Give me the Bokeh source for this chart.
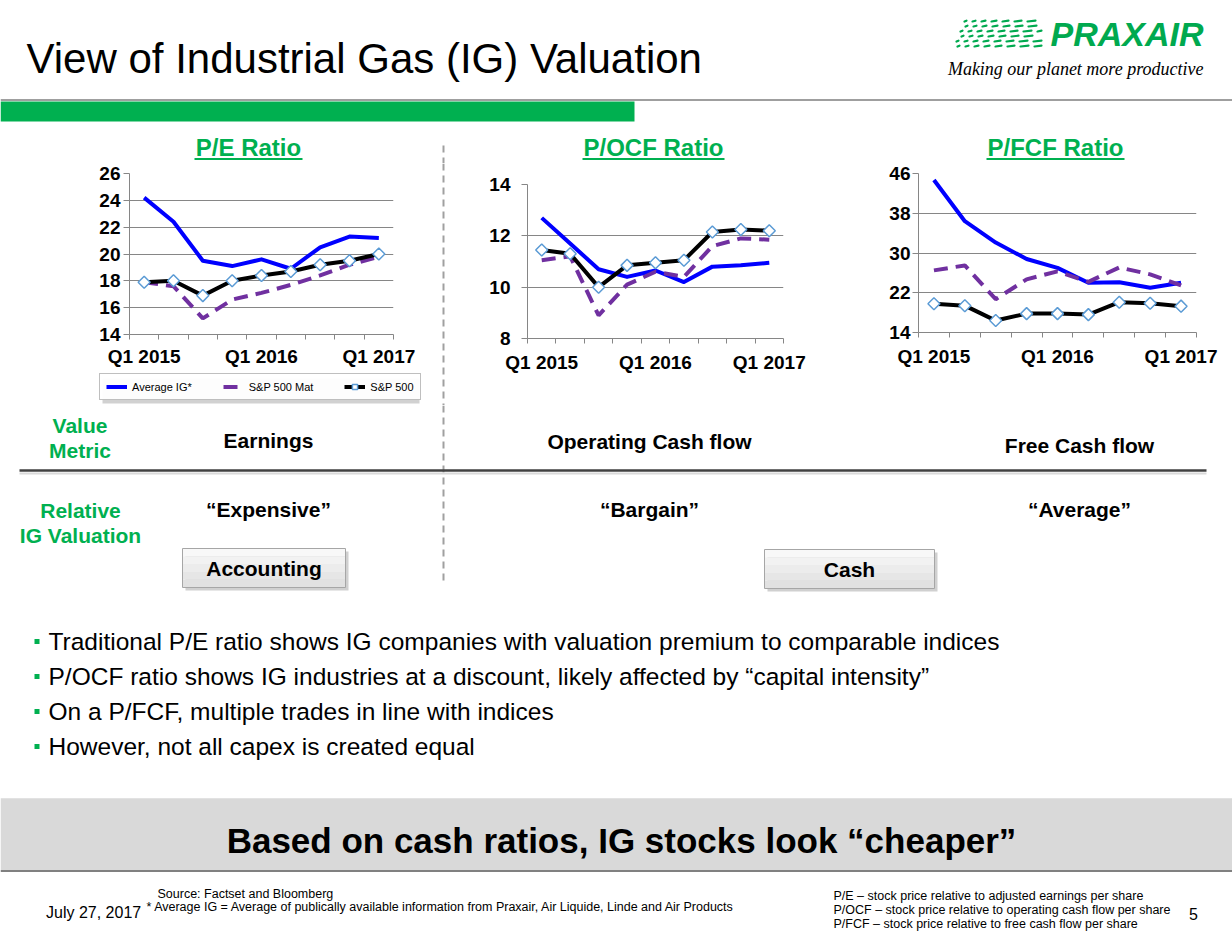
from bokeh.plotting import figure
from bokeh.layouts import column, row
from bokeh.models import Range1d, FixedTicker, Legend, LegendItem
from bokeh.core.properties import value
from bokeh.embed import file_html
from bokeh.resources import INLINE

# ---------------- data ----------------
quarters = ["Q1 2015", "Q2 2015", "Q3 2015", "Q4 2015", "Q1 2016",
            "Q2 2016", "Q3 2016", "Q4 2016", "Q1 2017"]
series_names = ["Average IG*", "S&P 500 Mat", "S&P 500"]
chart_titles = ["P/E Ratio", "P/OCF Ratio", "P/FCF Ratio"]

pe_avg_ig = [24.2, 22.4, 19.5, 19.1, 19.6, 18.9, 20.5, 21.3, 21.2]
pe_sp500_mat = [17.9, 17.6, 15.2, 16.6, 17.1, 17.7, 18.4, 19.2, 19.8]
pe_sp500 = [17.9, 18.0, 16.9, 18.0, 18.4, 18.7, 19.2, 19.5, 20.0]
pe_yticks = [14, 16, 18, 20, 22, 24, 26]

pocf_avg_ig = [12.7, 11.7, 10.7, 10.4, 10.65, 10.2, 10.8, 10.85, 10.95]
pocf_sp500_mat = [11.05, 11.2, 8.9, 10.1, 10.6, 10.4, 11.6, 11.9, 11.85]
pocf_sp500 = [11.45, 11.3, 10.0, 10.85, 10.95, 11.05, 12.15, 12.25, 12.2]
pocf_yticks = [8, 10, 12, 14]

pfcf_avg_ig = [44.7, 36.4, 32.1, 28.8, 27.0, 24.0, 24.1, 23.0, 24.0]
pfcf_sp500_mat = [26.5, 27.5, 20.7, 24.7, 26.3, 24.2, 27.1, 25.7, 23.5]
pfcf_sp500 = [19.8, 19.4, 16.4, 17.8, 17.8, 17.6, 20.1, 19.9, 19.3]
pfcf_yticks = [14, 22, 30, 38, 46]

metrics = ["Earnings", "Operating Cash flow", "Free Cash flow"]
valuations = ["\u201cExpensive\u201d", "\u201cBargain\u201d", "\u201cAverage\u201d"]
groups = ["Accounting", "Cash"]
bullets = [
    "Traditional P/E ratio shows IG companies with valuation premium to comparable indices",
    "P/OCF ratio shows IG industries at a discount, likely affected by \u201ccapital intensity\u201d",
    "On a P/FCF, multiple trades in line with indices",
    "However, not all capex is created equal",
]
footnotes_left = [
    "Source:  Factset and Bloomberg",
    "* Average IG = Average of publically available information from Praxair, Air Liquide, Linde and Air Products",
]
footnotes_right = [
    "P/E \u2013 stock price relative to adjusted earnings per share",
    "P/OCF \u2013 stock price relative to operating cash flow per share",
    "P/FCF \u2013  stock price relative to free cash flow per share",
]

# ---------------- styles ----------------
FONT = "Liberation Sans"
GREEN = "#00B050"
LOGO_GREEN = "#00A94F"
BLUE = "#0000FF"
PURPLE = "#7030A0"
GRID = "#868686"
DASHGRAY = "#A0A0A0"
MARKER_EDGE = "#5B9BD5"

W = 1232
ROW_TOP, ROW_BOT = 163, 405
LEG_TOP = 372


def canvas(w, h, x0, y0):
    p = figure(width=w, height=h, x_range=Range1d(x0, x0 + w), y_range=Range1d(y0 + h, y0),
               output_backend="svg", toolbar_location=None,
               x_axis_location=None, y_axis_location=None,
               min_border_left=0, min_border_right=0, min_border_top=0, min_border_bottom=0)
    p.outline_line_color = None
    p.grid.visible = False
    p.background_fill_color = "white"
    p.border_fill_color = "white"
    return p


def txt(p, x, y, s, size, color="black", style="normal", align="left",
        baseline="middle", font=FONT):
    p.text(x=[x], y=[y], text=[s], text_font=value(font), text_font_size=f"{size}px",
           text_font_style=style, text_color=color, text_align=align,
           text_baseline=baseline)


def series_lines(p, xs, avg, mat, sp):
    r_avg = p.line(xs, avg, line_color=BLUE, line_width=4, line_join="round")
    r_mat = p.line(xs, mat, line_color=PURPLE, line_width=4, line_dash="14 8")
    r_sp = p.line(xs, sp, line_color="black", line_width=4, line_join="round")
    r_mk = p.scatter(xs, sp, marker="square", angle=0.785398, size=8.5, fill_color="white",
                     line_color=MARKER_EDGE, line_width=1.5)
    return r_avg, r_mat, r_sp, r_mk


# ---------------- header ----------------
top = canvas(W, ROW_TOP, 0, 0)
top.segment(x0=[0], y0=[99.5], x1=[W], y1=[99.5], line_color="#7F7F7F", line_width=1.5)
top.quad(left=[0], right=[634], top=[101], bottom=[121], fill_color=GREEN, line_color=None)
txt(top, 26, 57.5, "View of Industrial Gas (IG) Valuation", 42)

# logo: speed streaks + word mark + tagline
sx0, sy0, sx1, sy1 = [], [], [], []
for r, yy in enumerate([21, 26, 31, 36, 41, 46]):
    x = 954 + (5 - r) * 2 + (r % 2) * 3
    seg = 2.0
    while x < 1038:
        sx0.append(x)
        sy0.append(yy)
        sx1.append(min(x + seg, 1041))
        sy1.append(yy - 0.8)
        x += seg + 6
        seg += 1.0
top.segment(x0=sx0, y0=sy0, x1=sx1, y1=sy1, line_color=LOGO_GREEN, line_width=2.2,
            line_cap="round")
txt(top, 1203, 33, "PRAXAIR", 34, color=LOGO_GREEN, style="bold italic", align="right")
txt(top, 1203, 68.5, "Making our planet more productive", 18, style="italic", align="right",
    font="Liberation Serif")

# chart titles with underline
title_cx = [248, 653, 1055]
title_half = [54, 71, 69]
for t, cx, hw in zip(chart_titles, title_cx, title_half):
    txt(top, cx, 147, t, 24, color=GREEN, style="bold", align="center")
    top.segment(x0=[cx - hw], y0=[158.5], x1=[cx + hw], y1=[158.5], line_color=GREEN,
                line_width=2)
top.segment(x0=[443], y0=[145], x1=[443], y1=[ROW_TOP], line_color=DASHGRAY, line_width=2,
            line_dash="7 5")


# ---------------- charts ----------------
def make_chart(x0, x1, y0, y1, fl, fr, ft, fb, yticks, avg, mat, sp, y_standoff, x_standoff):
    """x0..x1 / y0..y1: figure box in page px; fl, fr, ft, fb: frame edges in page px."""
    n = len(quarters)
    xs = list(range(1, n + 1))
    p = figure(width=x1 - x0, height=y1 - y0, output_backend="svg", toolbar_location=None,
               x_range=Range1d(0.5, n + 0.5), y_range=Range1d(min(yticks), max(yticks)),
               min_border_left=fl - x0, min_border_right=x1 - fr,
               min_border_top=ft - y0, min_border_bottom=y1 - fb)
    p.outline_line_color = None
    p.xgrid.visible = False
    p.ygrid.ticker = FixedTicker(ticks=yticks)
    p.ygrid.grid_line_color = GRID
    p.ygrid.grid_line_width = 1

    p.yaxis.ticker = FixedTicker(ticks=yticks)
    p.yaxis.axis_line_color = GRID
    p.yaxis.major_tick_line_color = GRID
    p.yaxis.major_tick_out = 6
    p.yaxis.major_tick_in = 0
    p.yaxis.minor_tick_line_color = None
    p.yaxis.major_label_standoff = y_standoff
    p.yaxis.major_label_text_font = FONT
    p.yaxis.major_label_text_font_size = "19px"
    p.yaxis.major_label_text_font_style = "bold"
    p.yaxis.major_label_text_color = "black"

    label_pos = [i + 1 for i, q in enumerate(quarters) if q.startswith("Q1")]
    p.xaxis.ticker = FixedTicker(ticks=label_pos, minor_ticks=[i + 0.5 for i in range(n + 1)])
    p.xaxis.major_label_overrides = {pos: quarters[pos - 1] for pos in label_pos}
    p.xaxis.axis_line_color = GRID
    p.xaxis.major_tick_out = 0
    p.xaxis.major_tick_in = 0
    p.xaxis.minor_tick_out = 5
    p.xaxis.minor_tick_in = 0
    p.xaxis.minor_tick_line_color = GRID
    p.xaxis.major_label_standoff = x_standoff
    p.xaxis.major_label_text_font = FONT
    p.xaxis.major_label_text_font_size = "19px"
    p.xaxis.major_label_text_font_style = "bold"
    p.xaxis.major_label_text_color = "black"

    series_lines(p, xs, avg, mat, sp)
    return p


c1 = make_chart(0, 440, ROW_TOP, LEG_TOP, 129, 393, 173, 334, pe_yticks, pe_avg_ig,
                pe_sp500_mat, pe_sp500, 3, 6)
c2 = make_chart(446, 850, ROW_TOP, ROW_BOT, 527, 783, 184, 338, pocf_yticks, pocf_avg_ig,
                pocf_sp500_mat, pocf_sp500, 11, 8)
c3 = make_chart(850, W, ROW_TOP, ROW_BOT, 918, 1196, 173, 332, pfcf_yticks, pfcf_avg_ig,
                pfcf_sp500_mat, pfcf_sp500, 2, 8)

# legend strip under the P/E chart (legend keys only: one undrawable point each)
NAN = float("nan")
leg = canvas(440, ROW_BOT - LEG_TOP, 0, LEG_TOP)
leg.quad(left=[102], right=[419], top=[378], bottom=[403], fill_color="#BDBDBD",
         fill_alpha=0.7, line_color=None)
la, lm, ls, lk = series_lines(leg, [NAN], [NAN], [NAN], [NAN])
lg = Legend(items=[LegendItem(label=series_names[0], renderers=[la]),
                   LegendItem(label=series_names[1], renderers=[lm]),
                   LegendItem(label=series_names[2], renderers=[ls, lk])],
            orientation="horizontal", location=(99, ROW_BOT - 400),
            label_text_font=FONT, label_text_font_size="11px", label_text_color="black",
            glyph_width=21, glyph_height=13, label_height=13, label_standoff=5,
            spacing=31, padding=6, margin=0,
            border_line_color="#7F7F7F", border_line_width=1,
            background_fill_color="white")
leg.add_layout(lg, "center")

sep = canvas(6, ROW_BOT - ROW_TOP, 440, ROW_TOP)
sep.segment(x0=[443], y0=[ROW_TOP], x1=[443], y1=[ROW_BOT], line_color=DASHGRAY,
            line_width=2, line_dash="7 5")

# ---------------- lower part ----------------
bot = canvas(W, 936 - ROW_BOT, 0, ROW_BOT)
bot.segment(x0=[443], y0=[ROW_BOT], x1=[443], y1=[583], line_color=DASHGRAY, line_width=2,
            line_dash="7 5")
txt(bot, 79.5, 424.5, "Value", 21, color=GREEN, style="bold", align="center")
txt(bot, 79.5, 450, "Metric", 21, color=GREEN, style="bold", align="center")
col_cx = [268, 649, 1079]
metric_y = [440, 440.5, 445]
for s, cx, yy in zip(metrics, col_cx, metric_y):
    txt(bot, cx, yy, s, 21, style="bold", align="center")
bot.segment(x0=[19], y0=[473], x1=[1206], y1=[473], line_color="#D9D9D9", line_width=2)
bot.segment(x0=[19], y0=[470], x1=[1206], y1=[470], line_color="#404040", line_width=2.5)
txt(bot, 80, 510, "Relative", 21, color=GREEN, style="bold", align="center")
txt(bot, 80, 535, "IG Valuation", 21, color=GREEN, style="bold", align="center")
for s, cx in zip(valuations, col_cx):
    txt(bot, cx, 508.5, s, 21, style="bold", align="center")

# two "button" boxes with soft shadow and a light vertical gradient
box_l = [182, 764]
box_r = [345, 934]
box_t = [548, 549]
box_b = [587, 588]
bot.quad(left=[v + 3 for v in box_l], right=[v + 3 for v in box_r],
         top=[v + 3 for v in box_t], bottom=[v + 3 for v in box_b],
         fill_color="#B0B0B0", fill_alpha=0.6, line_color=None)
shades = ["#F8F8F8", "#F2F2F2", "#ECECEC", "#E6E6E6", "#E1E1E1"]
for k, shade in enumerate(shades):
    bot.quad(left=box_l, right=box_r,
             top=[t + (b - t) * k / len(shades) for t, b in zip(box_t, box_b)],
             bottom=[t + (b - t) * (k + 1) / len(shades) for t, b in zip(box_t, box_b)],
             fill_color=shade, line_color=None)
bot.quad(left=box_l, right=box_r, top=box_t, bottom=box_b, fill_color=None,
         line_color="#A6A6A6", line_width=1)
for s, l, r, t, b in zip(groups, box_l, box_r, box_t, box_b):
    txt(bot, (l + r) / 2, (t + b) / 2, s, 21, style="bold", align="center")

bullet_y = [641, 676, 711, 746]
bot.scatter(x=[36.5] * len(bullets), y=bullet_y, marker="square", size=5, fill_color=GREEN,
            line_color=None)
for s, yy in zip(bullets, bullet_y):
    txt(bot, 48, yy, s, 24.5)

bot.quad(left=[0], right=[W], top=[797.7], bottom=[870], fill_color="#D9D9D9",
         line_color=None)
txt(bot, 621, 840, "Based on cash ratios, IG stocks look \u201ccheaper\u201d", 35, style="bold",
    align="center")
bot.segment(x0=[0], y0=[870.5], x1=[W], y1=[870.5], line_color="#808080", line_width=2)

txt(bot, 157, 893, footnotes_left[0], 12.5)
txt(bot, 146, 906.5, footnotes_left[1], 12.5)
txt(bot, 45.5, 912, "July 27, 2017", 16)
for s, yy in zip(footnotes_right, [895, 909, 923]):
    txt(bot, 833, yy, s, 12.5)
txt(bot, 1193, 913, "5", 16, align="center")

layout = column(top, row(column(c1, row(leg)), sep, column(c2), column(c3)), bot)
open("out.html", "w").write(file_html(layout, INLINE))
